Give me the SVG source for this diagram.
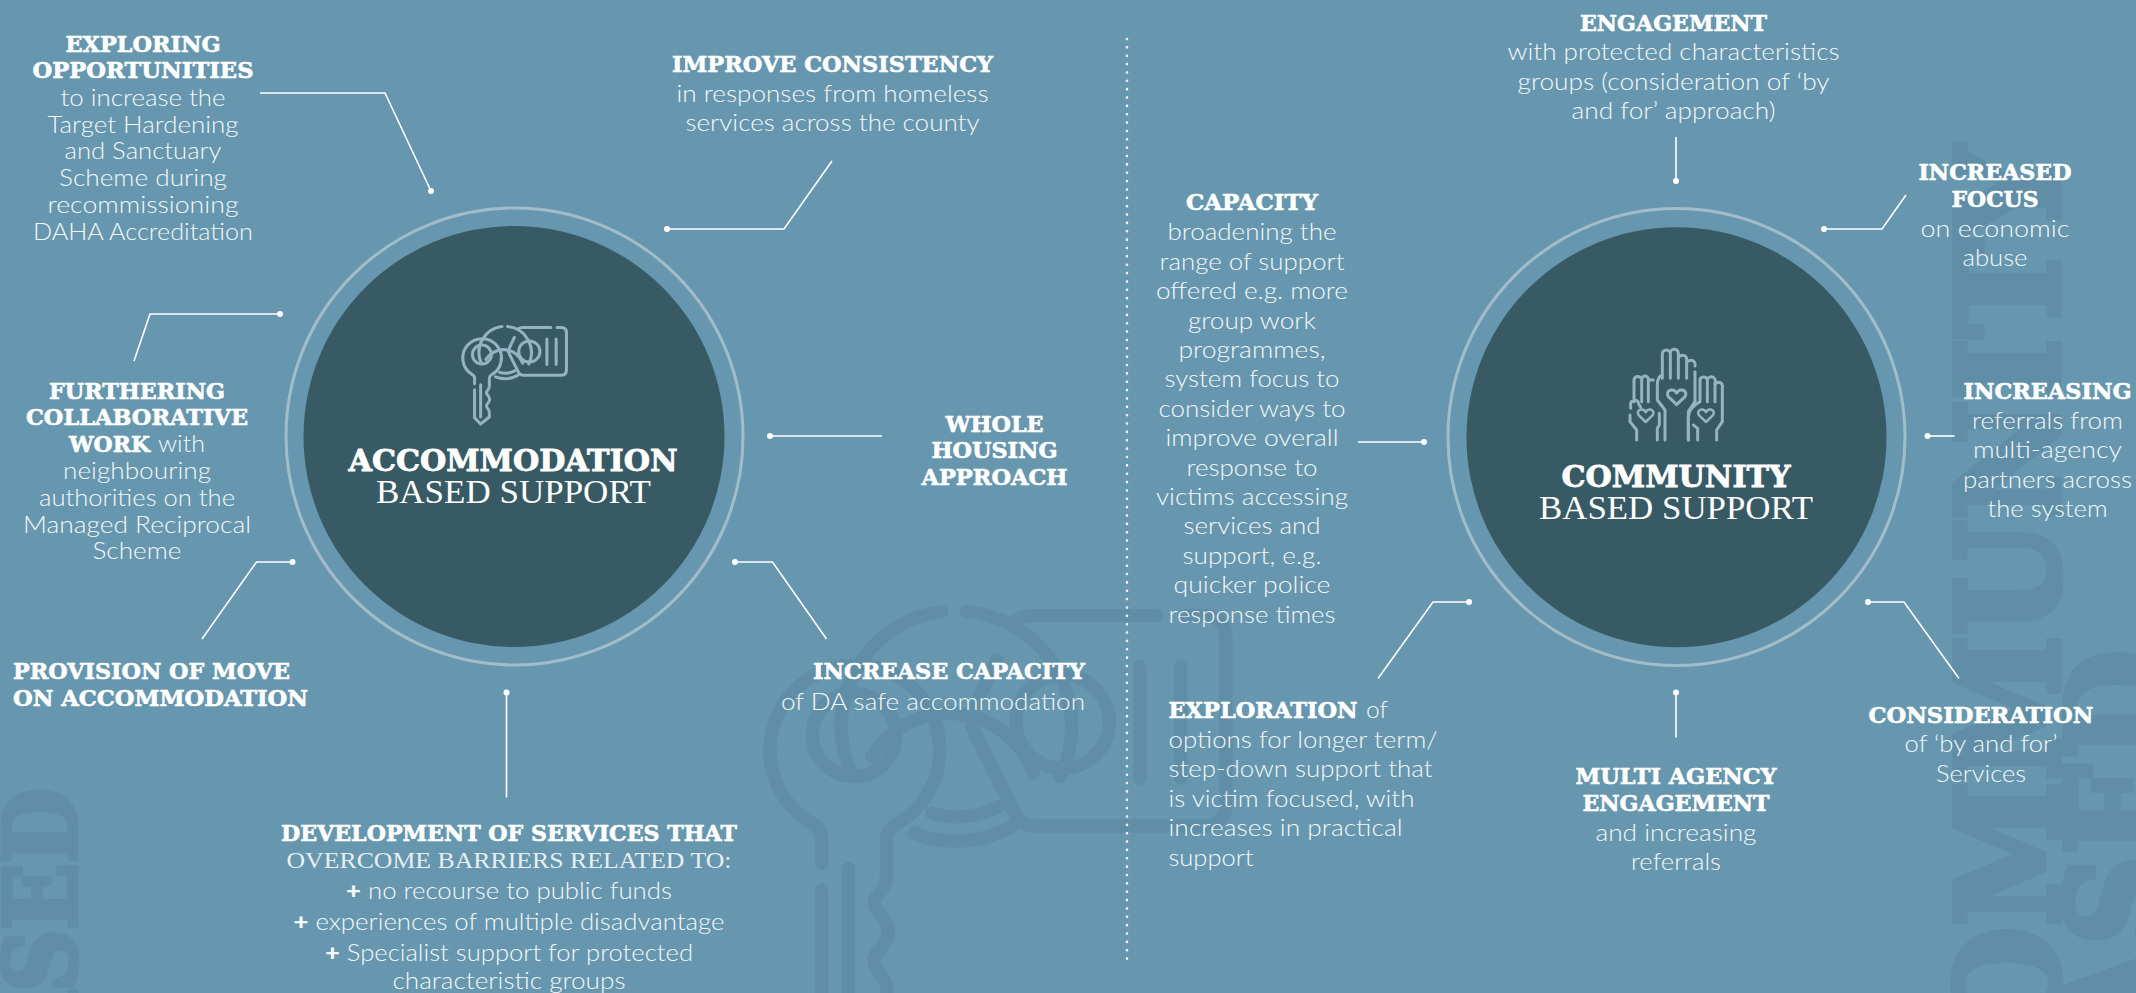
<svg xmlns="http://www.w3.org/2000/svg" xmlns:xlink="http://www.w3.org/1999/xlink" width="2136" height="993" viewBox="0 0 2136 993">
<style>
text{font-family:"Lato","Liberation Sans",sans-serif;font-weight:300;font-size:23px;fill:#f4f8fa;text-anchor:middle}
.h{font-family:"DejaVu Serif","Liberation Serif",serif;font-weight:700;font-size:22px;fill:#fff;stroke:#fff;stroke-width:.6}
.l{text-anchor:start}
.e{text-anchor:end}
.t{font-family:"DejaVu Serif",serif;font-weight:700;font-size:29px;fill:#fff;stroke:#fff;stroke-width:.8}
.s{font-family:"Liberation Serif",serif;font-weight:400;font-size:34px;fill:#fff}
.s2{font-family:"Liberation Serif",serif;font-weight:400;font-size:23px;fill-opacity:.92}
.b{font-weight:900}
.wm{font-family:"DejaVu Serif",serif;font-weight:700;fill:#608ea6;stroke:#608ea6;text-anchor:end}
.ring{fill:none;stroke:#a3bcc9;stroke-width:3}
.disc{fill:#375a65}
.c{fill:none;stroke:#fff;stroke-width:1.6;marker-end:url(#dot)}
.ic{fill:none;stroke-linecap:round;stroke-linejoin:round}
</style>
<defs>
<marker id="dot" markerUnits="userSpaceOnUse" markerWidth="8" markerHeight="8" refX="4" refY="4"><circle cx="4" cy="4" r="3" fill="#fff"/></marker>
<g id="keyicon">
<path d="M245 850V775Q245 745 215 730A255 255 0 1 1 465 735Q440 750 440 780V880Q440 920 410 950Q395 965 410 990Q445 1030 445 1055Q445 1080 410 1120Q395 1140 410 1165Q445 1205 440 1240V1290L325 1382L245 1300V930M325 865V1290"/>
<circle cx="342" cy="465" r="125"/>
<path d="M605 95A345 345 0 0 0 330 570M522 760A345 345 0 0 0 815 740M680 95A345 345 0 0 1 960 590M395 530A270 270 0 0 1 880 580M575 700A270 270 0 0 0 775 680"/>
<path d="M1250 107H880Q850 107 820 125M1335 107H1390Q1458 107 1458 175V670Q1458 738 1390 738H880Q835 735 820 690L700 450Q685 420 700 390L770 240"/>
<circle cx="968" cy="425" r="140"/>
<path d="M1200 260V595M1322 260V595"/>
</g>
<path id="heart" d="M0 27L-25 3Q-33 -12 -17 -17Q-6 -19 0 -8Q6 -19 17 -17Q33 -12 25 3Z"/>
</defs>
<rect width="2136" height="993" fill="#6797ae"/>

<g id="watermarks">
<use href="#keyicon" transform="translate(740 580) scale(.3333)" class="ic" stroke="#608ea6" stroke-width="40"/>
<text class="wm" style="font-size:100px;stroke-width:5px" transform="translate(76 788) rotate(-90)" textLength="345" lengthAdjust="spacingAndGlyphs">BASED</text>
<text class="wm" style="font-size:140px;stroke-width:7px" transform="translate(2058 146) rotate(-90)" textLength="1000" lengthAdjust="spacingAndGlyphs">COMMUNITY</text>
<text class="wm" style="font-size:140px;stroke-width:7px" transform="translate(2168 650) rotate(-90)" textLength="500" lengthAdjust="spacingAndGlyphs">BASED</text>
</g>

<path id="divider" d="M1127 39V960" fill="none" stroke="#fff" stroke-width="2.6" stroke-linecap="round" stroke-dasharray="0 8.36"/>

<g id="connectors">
<path class="c" d="M260 93H385L431 191"/>
<path class="c" d="M832 161L784 229H667"/>
<path class="c" d="M134 361L150 314H280"/>
<path class="c" d="M882 436H770"/>
<path class="c" d="M202 639L256.500 562H292.500"/>
<path class="c" d="M826.500 639L772.500 562H735"/>
<path class="c" d="M506.500 797.500V692.500"/>
<path class="c" d="M1676 137V181"/>
<path class="c" d="M1906 195L1882 229H1824"/>
<path class="c" d="M1954.500 436H1927.500"/>
<path class="c" d="M1358 442H1424"/>
<path class="c" d="M1378 678.500L1433 602H1469"/>
<path class="c" d="M1959 678.500L1904 602H1868"/>
<path class="c" d="M1676 737.500V692.500"/>
</g>

<g id="hub-accommodation">
<circle class="ring" cx="514.500" cy="436.500" r="228.500"/>
<circle class="disc" cx="514" cy="436.500" r="210.500"/>
<use href="#keyicon" transform="translate(456 319.300) scale(.07576)" class="ic" stroke="#95b3c2" stroke-width="40"/>
<text class="t" x="513" y="471" textLength="329" lengthAdjust="spacingAndGlyphs">ACCOMMODATION</text>
<text class="s" x="513.500" y="503" textLength="275" lengthAdjust="spacingAndGlyphs">BASED SUPPORT</text>
</g>
<g id="hub-community">
<circle class="ring" cx="1676.500" cy="437" r="228.500"/>
<circle class="disc" cx="1676.500" cy="437.300" r="210"/>
<g transform="translate(1600 330) scale(.3333)" class="ic" stroke="#95b3c2" stroke-width="9">
<path d="M187 145V72A12 12 0 0 1 211 72V145M211 72A12 12 0 0 1 235 68V145M235 88A12 12 0 0 1 260 88V145M260 100A12 12 0 0 1 285 108M285 125V215L265 245V330M187 135Q172 140 172 165V210L195 240V330"/>
<path d="M102 215V148A12 12 0 0 1 125 148V215M125 148A10 10 0 0 1 145 148V215M145 150H160M92 235V222A12 12 0 0 1 116 222L122 232M90 255V275L110 300V330M178 250V285L172 295V330"/>
<path d="M300 210V148A12 12 0 0 1 322 148V215M322 148A12 12 0 0 1 345 158V215M345 165A11 11 0 0 1 367 172V275L350 300V330M300 215Q265 235 265 262V330M280 285L293 295V330"/>
<use href="#heart" transform="translate(230 197)"/>
<use href="#heart" transform="translate(137 253) scale(.85)"/>
<use href="#heart" transform="translate(318 253) scale(.85)"/>
</g>
<text class="t" x="1676" y="487" textLength="229" lengthAdjust="spacingAndGlyphs">COMMUNITY</text>
<text class="s" x="1676" y="519" textLength="274" lengthAdjust="spacingAndGlyphs">BASED SUPPORT</text>
</g>

<g id="n-exploring">
<text class="h" x="143" y="52" textLength="155" lengthAdjust="spacingAndGlyphs">EXPLORING</text>
<text class="h" x="143" y="78" textLength="221" lengthAdjust="spacingAndGlyphs">OPPORTUNITIES</text>
<text x="143" y="106" textLength="165" lengthAdjust="spacingAndGlyphs">to increase the</text>
<text x="143" y="132.500" textLength="191" lengthAdjust="spacingAndGlyphs">Target Hardening</text>
<text x="143" y="159" textLength="157" lengthAdjust="spacingAndGlyphs">and Sanctuary</text>
<text x="143" y="186" textLength="168" lengthAdjust="spacingAndGlyphs">Scheme during</text>
<text x="143" y="212.500" textLength="191" lengthAdjust="spacingAndGlyphs">recommissioning</text>
<text x="143" y="239.500" textLength="220" lengthAdjust="spacingAndGlyphs">DAHA Accreditation</text>
</g>
<g id="n-improve">
<text class="h" x="832.500" y="71.500" textLength="321" lengthAdjust="spacingAndGlyphs">IMPROVE CONSISTENCY</text>
<text x="832.500" y="101.500" textLength="312" lengthAdjust="spacingAndGlyphs">in responses from homeless</text>
<text x="832.500" y="130.500" textLength="294" lengthAdjust="spacingAndGlyphs">services across the county</text>
</g>
<g id="n-furthering">
<text class="h" x="137" y="399" textLength="176" lengthAdjust="spacingAndGlyphs">FURTHERING</text>
<text class="h" x="137" y="425" textLength="222" lengthAdjust="spacingAndGlyphs">COLLABORATIVE</text>
<text class="h l" x="69" y="452" textLength="81" lengthAdjust="spacingAndGlyphs">WORK</text>
<text class="l" x="158" y="452" textLength="47" lengthAdjust="spacingAndGlyphs">with</text>
<text x="137" y="479" textLength="148" lengthAdjust="spacingAndGlyphs">neighbouring</text>
<text x="137" y="506" textLength="196" lengthAdjust="spacingAndGlyphs">authorities on the</text>
<text x="137" y="532.500" textLength="228" lengthAdjust="spacingAndGlyphs">Managed Reciprocal</text>
<text x="137" y="559" textLength="89" lengthAdjust="spacingAndGlyphs">Scheme</text>
</g>
<g id="n-whole">
<text class="h" x="994.500" y="431.500" textLength="98" lengthAdjust="spacingAndGlyphs">WHOLE</text>
<text class="h" x="994.500" y="458" textLength="126" lengthAdjust="spacingAndGlyphs">HOUSING</text>
<text class="h" x="994.500" y="485" textLength="146" lengthAdjust="spacingAndGlyphs">APPROACH</text>
</g>
<g id="n-provision">
<text class="h l" x="13" y="679" textLength="277" lengthAdjust="spacingAndGlyphs">PROVISION OF MOVE</text>
<text class="h l" x="13" y="706" textLength="295" lengthAdjust="spacingAndGlyphs">ON ACCOMMODATION</text>
</g>
<g id="n-increase-capacity">
<text class="h e" x="1085" y="679" textLength="272" lengthAdjust="spacingAndGlyphs">INCREASE CAPACITY</text>
<text class="e" x="1085" y="710" textLength="304" lengthAdjust="spacingAndGlyphs">of DA safe accommodation</text>
</g>
<g id="n-development">
<text class="h" x="509" y="841" textLength="456" lengthAdjust="spacingAndGlyphs">DEVELOPMENT OF SERVICES THAT</text>
<text class="s2" x="509" y="868" textLength="445" lengthAdjust="spacingAndGlyphs">OVERCOME BARRIERS RELATED TO:</text>
<text x="509" y="899" textLength="326" lengthAdjust="spacingAndGlyphs"><tspan class="b">+</tspan> no recourse to public funds</text>
<text x="509" y="930" textLength="431" lengthAdjust="spacingAndGlyphs"><tspan class="b">+</tspan> experiences of multiple disadvantage</text>
<text x="509" y="960.500" textLength="368" lengthAdjust="spacingAndGlyphs"><tspan class="b">+</tspan> Specialist support for protected</text>
<text x="509" y="989" textLength="233" lengthAdjust="spacingAndGlyphs">characteristic groups</text>
</g>

<g id="n-engagement">
<text class="h" x="1673.500" y="30.500" textLength="187" lengthAdjust="spacingAndGlyphs">ENGAGEMENT</text>
<text x="1673.500" y="60" textLength="332" lengthAdjust="spacingAndGlyphs">with protected characteristics</text>
<text x="1673.500" y="89.500" textLength="312" lengthAdjust="spacingAndGlyphs">groups (consideration of ‘by</text>
<text x="1673.500" y="119" textLength="204" lengthAdjust="spacingAndGlyphs">and for’ approach)</text>
</g>
<g id="n-increased-focus">
<text class="h" x="1995" y="180" textLength="153" lengthAdjust="spacingAndGlyphs">INCREASED</text>
<text class="h" x="1995" y="206.500" textLength="87" lengthAdjust="spacingAndGlyphs">FOCUS</text>
<text x="1995" y="237" textLength="149" lengthAdjust="spacingAndGlyphs">on economic</text>
<text x="1995" y="266" textLength="65" lengthAdjust="spacingAndGlyphs">abuse</text>
</g>
<g id="n-capacity">
<text class="h" x="1252" y="210" textLength="132" lengthAdjust="spacingAndGlyphs">CAPACITY</text>
<text x="1252" y="240" textLength="169" lengthAdjust="spacingAndGlyphs">broadening the</text>
<text x="1252" y="269.500" textLength="185" lengthAdjust="spacingAndGlyphs">range of support</text>
<text x="1252" y="299" textLength="192" lengthAdjust="spacingAndGlyphs">offered e.g. more</text>
<text x="1252" y="328.500" textLength="128" lengthAdjust="spacingAndGlyphs">group work</text>
<text x="1252" y="358" textLength="147" lengthAdjust="spacingAndGlyphs">programmes,</text>
<text x="1252" y="387" textLength="175" lengthAdjust="spacingAndGlyphs">system focus to</text>
<text x="1252" y="416.500" textLength="187" lengthAdjust="spacingAndGlyphs">consider ways to</text>
<text x="1252" y="446" textLength="173" lengthAdjust="spacingAndGlyphs">improve overall</text>
<text x="1252" y="475.500" textLength="131" lengthAdjust="spacingAndGlyphs">response to</text>
<text x="1252" y="505" textLength="192" lengthAdjust="spacingAndGlyphs">victims accessing</text>
<text x="1252" y="534" textLength="137" lengthAdjust="spacingAndGlyphs">services and</text>
<text x="1252" y="563.500" textLength="139" lengthAdjust="spacingAndGlyphs">support, e.g.</text>
<text x="1252" y="593" textLength="157" lengthAdjust="spacingAndGlyphs">quicker police</text>
<text x="1252" y="622.500" textLength="167" lengthAdjust="spacingAndGlyphs">response times</text>
</g>
<g id="n-increasing">
<text class="h" x="2047.500" y="399" textLength="168" lengthAdjust="spacingAndGlyphs">INCREASING</text>
<text x="2047.500" y="429" textLength="151" lengthAdjust="spacingAndGlyphs">referrals from</text>
<text x="2047.500" y="458" textLength="149" lengthAdjust="spacingAndGlyphs">multi-agency</text>
<text x="2047.500" y="488" textLength="169" lengthAdjust="spacingAndGlyphs">partners across</text>
<text x="2047.500" y="517" textLength="120" lengthAdjust="spacingAndGlyphs">the system</text>
</g>
<g id="n-exploration">
<text class="h l" x="1168.500" y="718" textLength="189" lengthAdjust="spacingAndGlyphs">EXPLORATION</text>
<text class="l" x="1366" y="718" textLength="22" lengthAdjust="spacingAndGlyphs">of</text>
<text class="l" x="1168.500" y="747.500" textLength="269" lengthAdjust="spacingAndGlyphs">options for longer term/</text>
<text class="l" x="1168.500" y="777" textLength="264" lengthAdjust="spacingAndGlyphs">step-down support that</text>
<text class="l" x="1168.500" y="806.500" textLength="246" lengthAdjust="spacingAndGlyphs">is victim focused, with</text>
<text class="l" x="1168.500" y="836" textLength="234" lengthAdjust="spacingAndGlyphs">increases in practical</text>
<text class="l" x="1168.500" y="865.500" textLength="85" lengthAdjust="spacingAndGlyphs">support</text>
</g>
<g id="n-multi">
<text class="h" x="1676" y="784" textLength="201" lengthAdjust="spacingAndGlyphs">MULTI AGENCY</text>
<text class="h" x="1676" y="811" textLength="187" lengthAdjust="spacingAndGlyphs">ENGAGEMENT</text>
<text x="1676" y="841" textLength="161" lengthAdjust="spacingAndGlyphs">and increasing</text>
<text x="1676" y="870" textLength="90" lengthAdjust="spacingAndGlyphs">referrals</text>
</g>
<g id="n-consideration">
<text class="h" x="1981" y="722.500" textLength="225" lengthAdjust="spacingAndGlyphs">CONSIDERATION</text>
<text x="1981" y="752" textLength="153" lengthAdjust="spacingAndGlyphs">of ‘by and for’</text>
<text x="1981" y="781.500" textLength="90" lengthAdjust="spacingAndGlyphs">Services</text>
</g>
</svg>
